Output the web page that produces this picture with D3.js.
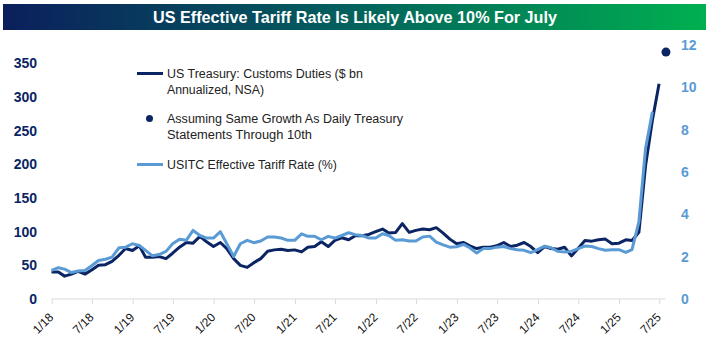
<!DOCTYPE html>
<html>
<head>
<meta charset="utf-8">
<script src="https://cdn.jsdelivr.net/npm/d3@7/dist/d3.min.js"></script>
<style>
  html, body { margin: 0; padding: 0; background: #fff; }
  svg { display: block; }
  .sans { font-family: "Liberation Sans", Arial, sans-serif; }
</style>
</head>
<body>
<svg id="chart" width="709" height="344"></svg>
<script>
// Monthly series, month-end dates starting Dec 2017.
// Customs duties, $ bn annualized (NSA), Dec 2017 .. Jun 2025
const customsDuties = [
  40, 40, 34, 37, 41, 37, 43, 50, 51, 56, 65, 75,
  72, 79, 62, 62, 63, 60, 68, 77, 84, 83, 93, 85,
  78, 84, 75, 60, 50, 47, 54, 60, 71, 73, 74, 72,
  73, 70, 77, 78, 85, 78, 87, 91, 88, 94, 94, 96,
  100, 104, 98, 99, 112, 99, 102, 104, 103, 106, 98, 89,
  82, 84, 79, 75, 77, 77, 79, 84, 78, 80, 84, 78,
  69, 78, 75, 74, 77, 64, 75, 87, 86, 88, 89, 82,
  83, 88, 87, 99, 198, 266, 320
];
// USITC effective tariff rate, %, Dec 2017 .. May 2025
const effectiveRate = [
  1.35, 1.48, 1.41, 1.25, 1.32, 1.35, 1.57, 1.82, 1.88, 1.98, 2.42, 2.45,
  2.61, 2.53, 2.30, 2.04, 2.10, 2.25, 2.61, 2.82, 2.78, 3.24, 3.00, 2.88,
  2.88, 3.18, 2.61, 2.01, 2.61, 2.77, 2.66, 2.74, 2.93, 2.93, 2.88, 2.77,
  2.77, 3.08, 2.96, 2.96, 2.80, 2.96, 2.88, 3.00, 3.13, 3.04, 3.00, 2.88,
  2.88, 3.08, 3.00, 2.77, 2.80, 2.74, 2.74, 2.93, 2.97, 2.69, 2.56, 2.45,
  2.47, 2.58, 2.42, 2.17, 2.38, 2.38, 2.45, 2.48, 2.38, 2.33, 2.30, 2.19,
  2.33, 2.50, 2.42, 2.25, 2.22, 2.25, 2.38, 2.50, 2.48, 2.38, 2.30, 2.33,
  2.33, 2.20, 2.33, 3.64, 7.11, 8.84
];
// July 2025 estimate from daily Treasury statements through the 10th
const julyEstimate = [{ month: 91, value: 367 }];

const xTickLabels = ["1/18","7/18","1/19","7/19","1/20","7/20","1/21","7/21",
                     "1/22","7/22","1/23","7/23","1/24","7/24","1/25","7/25"];
const leftTicks = [0, 50, 100, 150, 200, 250, 300, 350];
const rightTicks = [0, 2, 4, 6, 8, 10, 12];

const titleText = "US Effective Tariff Rate Is Likely Above 10% For July";
const legendItems = [
  { kind: "line", color: "#0b2463", lines: ["US Treasury: Customs Duties ($ bn", "Annualized, NSA)"], widths: [196, 97] },
  { kind: "dot",  color: "#0b2463", lines: ["Assuming Same Growth As Daily Treasury", "Statements Through 10th"], widths: [236, 145] },
  { kind: "line", color: "#5b9bd5", lines: ["USITC Effective Tariff Rate (%)"], widths: [170] }
];

const NAVY = "#0b2463", LIGHT = "#5b9bd5";
const svg = d3.select("#chart");

// month-end date for index i (i = 0 -> 31 Dec 2017)
const monthEnd = i => new Date(2018, i, 0);
const parseTick = s => { const [m, y] = s.split("/").map(Number); return new Date(2000 + y, m - 1, 1); };

// Title banner
const grad = svg.append("defs").append("linearGradient").attr("id", "banner")
  .attr("x1", "0%").attr("x2", "100%").attr("y1", "0%").attr("y2", "0%");
grad.append("stop").attr("offset", "0%").attr("stop-color", "#0b1f5c");
grad.append("stop").attr("offset", "45%").attr("stop-color", "#045a5e");
grad.append("stop").attr("offset", "100%").attr("stop-color", "#00b050");
svg.append("rect").attr("x", 3).attr("y", 4).attr("width", 703).attr("height", 26).attr("fill", "url(#banner)");
svg.append("text").attr("class", "sans")
  .attr("x", 355).attr("y", 23).attr("text-anchor", "middle")
  .attr("fill", "#fff").attr("font-weight", "bold").attr("font-size", 16.5)
  .attr("textLength", 404).attr("lengthAdjust", "spacingAndGlyphs")
  .text(titleText);

// Scales
const x = d3.scaleTime()
  .domain([parseTick(xTickLabels[0]), parseTick(xTickLabels[xTickLabels.length - 1])])
  .range([51.7, 659.3]);
const yL = d3.scaleLinear().domain([0, 350]).range([299, 63.5]);
const yR = d3.scaleLinear().domain([0, 12]).range([299, 45]);

// X axis
const xAxis = d3.axisBottom(x)
  .tickValues(xTickLabels.map(parseTick))
  .tickFormat((d, i) => xTickLabels[i])
  .tickSize(5).tickSizeOuter(0);
const gx = svg.append("g").attr("transform", "translate(0,299)").call(xAxis);
gx.select(".domain").remove();
gx.append("line").attr("x1", x.range()[0]).attr("x2", x.range()[1] + 6)
  .attr("stroke", "#d9d9d9").attr("stroke-width", 1);
gx.selectAll(".tick line").attr("stroke", "#d9d9d9");
gx.selectAll(".tick text")
  .attr("font-family", "'Liberation Sans', Arial, sans-serif")
  .attr("font-size", 12).attr("fill", "#111")
  .attr("text-anchor", "end")
  .attr("x", 0).attr("y", 0).attr("dy", 0)
  .attr("transform", "translate(2,19) rotate(-45)");

// Left axis
const gl = svg.append("g").attr("transform", "translate(37,0)")
  .call(d3.axisLeft(yL).tickValues(leftTicks).tickSize(0));
gl.select(".domain").remove();
gl.selectAll(".tick text").attr("font-family", "'Liberation Sans', Arial, sans-serif")
  .attr("font-size", 14).attr("font-weight", "bold").attr("fill", NAVY).attr("x", 0);

// Right axis
const gr = svg.append("g").attr("transform", "translate(681,0)")
  .call(d3.axisRight(yR).tickValues(rightTicks).tickSize(0));
gr.select(".domain").remove();
gr.selectAll(".tick text").attr("font-family", "'Liberation Sans', Arial, sans-serif")
  .attr("font-size", 14).attr("font-weight", "bold").attr("fill", LIGHT).attr("x", 0);

// Lines
const customsLine = d3.line().x((d, i) => x(monthEnd(i))).y(d => yL(d));
const rateLine = d3.line().x((d, i) => x(monthEnd(i))).y(d => yR(d));

svg.append("path").datum(customsDuties)
  .attr("d", customsLine).attr("fill", "none")
  .attr("stroke", NAVY).attr("stroke-width", 3).attr("stroke-linejoin", "round");
svg.append("path").datum(effectiveRate)
  .attr("d", rateLine).attr("fill", "none")
  .attr("stroke", LIGHT).attr("stroke-width", 3).attr("stroke-linejoin", "round");

svg.selectAll("circle.est").data(julyEstimate).join("circle").attr("class", "est")
  .attr("cx", d => x(monthEnd(d.month))).attr("cy", d => yL(d.value))
  .attr("r", 4.5).attr("fill", NAVY);

// Legend
const legend = svg.append("g").attr("class", "sans").attr("font-size", 12.5).attr("fill", "#222");
const rowY = [73.5, 118.5, 164.5];
legendItems.forEach((item, k) => {
  const g = legend.append("g").attr("transform", `translate(0,${rowY[k]})`);
  if (item.kind === "line") {
    g.append("line").attr("x1", 137).attr("x2", 163).attr("y1", 0).attr("y2", 0)
      .attr("stroke", item.color).attr("stroke-width", 3);
  } else {
    g.append("circle").attr("cx", 149.5).attr("cy", 0).attr("r", 3.5).attr("fill", item.color);
  }
  item.lines.forEach((t, j) => {
    g.append("text").attr("x", 167).attr("y", 16 * j).attr("dy", "0.35em")
      .attr("textLength", item.widths[j]).attr("lengthAdjust", "spacingAndGlyphs")
      .text(t);
  });
});
</script>
</body>
</html>
